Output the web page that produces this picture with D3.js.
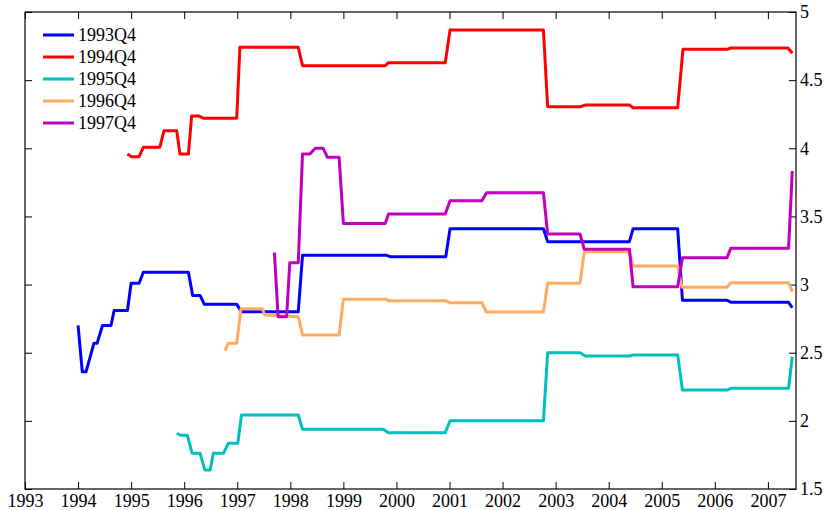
<!doctype html>
<html>
  <head>
    <script src="https://cdn.jsdelivr.net/npm/d3@7/dist/d3.min.js" type="text/JavaScript"></script>
    <style>
      body { margin: 0; background: #fff; }
      text { font-family: "Liberation Serif", "Times New Roman", serif; }
    </style>
  </head>
  <body>
    <div id="viz">
      <svg style="width:825px;height:510px;"></svg>
    </div>
    <script>
      // [year, value] pairs
      const s1993Q4 = [[1994.00,2.70],[1994.08,2.36],[1994.15,2.36],[1994.30,2.57],[1994.36,2.57],[1994.46,2.70],[1994.62,2.70],
        [1994.68,2.81],[1994.93,2.81],[1995.00,3.01],[1995.15,3.01],[1995.23,3.09],[1996.08,3.09],[1996.16,2.92],[1996.30,2.92],
        [1996.38,2.855],[1996.99,2.855],[1997.08,2.80],[1998.15,2.80],[1998.23,3.215],[1999.82,3.215],[1999.88,3.205],
        [2000.93,3.205],[2001.01,3.41],[2002.77,3.41],[2002.85,3.315],[2004.39,3.315],[2004.46,3.41],[2005.30,3.41],
        [2005.39,2.885],[2006.23,2.885],[2006.30,2.87],[2007.39,2.87],[2007.46,2.83]];
      const s1994Q4 = [[1994.93,3.958],[1995.01,3.938],[1995.15,3.938],[1995.23,4.007],[1995.54,4.007],[1995.62,4.129],[1995.86,4.129],
        [1995.92,3.958],[1996.08,3.958],[1996.14,4.237],[1996.27,4.237],[1996.37,4.22],[1996.99,4.22],[1997.05,4.741],
        [1998.15,4.741],[1998.23,4.606],[1999.79,4.606],[1999.85,4.628],[2000.92,4.628],[2001.01,4.868],[2002.77,4.868],
        [2002.85,4.305],[2003.46,4.305],[2003.56,4.317],[2004.39,4.317],[2004.46,4.297],[2005.30,4.297],[2005.40,4.726],
        [2006.23,4.726],[2006.30,4.736],[2007.38,4.736],[2007.46,4.697]];
      const s1995Q4 = [[1995.86,1.909],[1995.93,1.894],[1996.06,1.894],[1996.15,1.762],[1996.30,1.762],[1996.39,1.639],[1996.49,1.639],
        [1996.55,1.762],[1996.74,1.762],[1996.83,1.835],[1997.01,1.835],[1997.08,2.043],[1998.15,2.043],[1998.23,1.938],
        [1999.75,1.938],[1999.85,1.913],[2000.92,1.913],[2001.01,2.001],[2002.77,2.001],[2002.85,2.50],[2003.46,2.50],
        [2003.56,2.476],[2004.39,2.476],[2004.46,2.483],[2005.30,2.483],[2005.39,2.226],[2006.23,2.226],[2006.30,2.239],
        [2007.39,2.239],[2007.46,2.471]];
      const s1996Q4 = [[1996.77,2.515],[1996.83,2.569],[1996.99,2.569],[1997.07,2.823],[1997.47,2.823],[1997.52,2.777],[1998.15,2.764],
        [1998.23,2.63],[1998.92,2.63],[1999.00,2.892],[1999.82,2.892],[1999.85,2.881],[2000.93,2.881],[2001.01,2.867],
        [2001.61,2.867],[2001.69,2.799],[2002.77,2.799],[2002.85,3.009],[2003.46,3.009],[2003.54,3.241],[2004.39,3.241],
        [2004.46,3.136],[2005.30,3.136],[2005.38,2.98],[2006.23,2.98],[2006.30,3.014],[2007.39,3.014],[2007.46,2.948]];
      const s1997Q4 = [[1997.70,3.234],[1997.77,2.764],[1997.93,2.764],[1997.99,3.16],[1998.15,3.16],[1998.23,3.958],[1998.37,3.958],
        [1998.47,4.00],[1998.62,4.00],[1998.70,3.934],[1998.92,3.934],[1999.00,3.449],[1999.79,3.449],[1999.85,3.518],
        [2000.92,3.518],[2001.01,3.615],[2001.61,3.615],[2001.70,3.674],[2002.77,3.674],[2002.85,3.371],[2003.46,3.371],
        [2003.54,3.259],[2004.39,3.259],[2004.46,2.984],[2005.30,2.984],[2005.39,3.197],[2006.23,3.197],[2006.30,3.266],
        [2007.39,3.266],[2007.46,3.833]];

      const seriesNames = ["1993Q4", "1994Q4", "1995Q4", "1996Q4", "1997Q4"];
      const seriesData = [s1993Q4, s1994Q4, s1995Q4, s1996Q4, s1997Q4];
      const colors = ["#0000ff", "#ff0000", "#00bfbf", "#ffaa5f", "#bf00bf"];
      const xTicks = d3.range(1993, 2008);
      const yTicks = [1.5, 2, 2.5, 3, 3.5, 4, 4.5, 5];

      const mLeft = 25, mTop = 12, mRight = 796, mBottom = 489;

      const xScale = d3.scaleLinear().domain([1993, 2007.53]).range([mLeft, mRight]);
      const yScale = d3.scaleLinear().domain([1.5, 5]).range([mBottom, mTop]);

      const svg = d3.select("svg");

      // frame
      svg.append("rect")
        .attr("x", mLeft).attr("y", mTop)
        .attr("width", mRight - mLeft).attr("height", mBottom - mTop)
        .style("fill", "none").style("stroke", "black").style("stroke-width", 1.2);

      const xAxis = d3.axisBottom().scale(xScale).tickValues(xTicks).tickSize(-7).tickPadding(5).tickFormat(d3.format("d"));
      svg.append("g").attr("transform", `translate(0,${mBottom})`).attr("id", "xAxisG").call(xAxis);

      const xTop = d3.axisTop().scale(xScale).tickValues(xTicks).tickSize(-7).tickFormat("");
      svg.append("g").attr("transform", `translate(0,${mTop})`).call(xTop);

      const yLeft = d3.axisLeft().scale(yScale).tickValues(yTicks).tickSize(-7).tickFormat("");
      svg.append("g").attr("transform", `translate(${mLeft},0)`).call(yLeft);

      const yAxis = d3.axisRight().scale(yScale).tickValues(yTicks).tickSize(-7).tickPadding(4).tickFormat(d => d);
      svg.append("g").attr("transform", `translate(${mRight},0)`).attr("id", "yAxisG").call(yAxis);

      svg.selectAll("g .domain").remove();
      svg.selectAll("g .tick line").style("stroke", "black");
      svg.selectAll("g .tick text").style("font-size", "18px").style("fill", "black")
        .style("font-family", "'Liberation Serif', serif");

      const line = d3.line().x(d => xScale(d[0])).y(d => yScale(d[1]));

      svg.selectAll("path.series")
        .data(seriesData)
        .enter()
        .append("path")
          .attr("class", "series")
          .attr("d", line)
          .style("fill", "none")
          .style("stroke", (d, i) => colors[i])
          .style("stroke-width", 3)
          .style("stroke-linejoin", "round");

      const legend = svg.selectAll("g.legend")
        .data(seriesNames).enter()
        .append("g")
          .attr("class", "legend")
          .attr("transform", (d, i) => `translate(43, ${35 + i * 22})`);
      legend.append("line")
        .attr("x1", 0).attr("x2", 31).attr("y1", 0).attr("y2", 0)
        .style("stroke", (d, i) => colors[i]).style("stroke-width", 3);
      legend.append("text")
        .attr("x", 35).attr("y", 0).attr("dy", "0.35em")
        .style("font-size", "18px")
        .text(d => d);
    </script>
  </body>
</html>
